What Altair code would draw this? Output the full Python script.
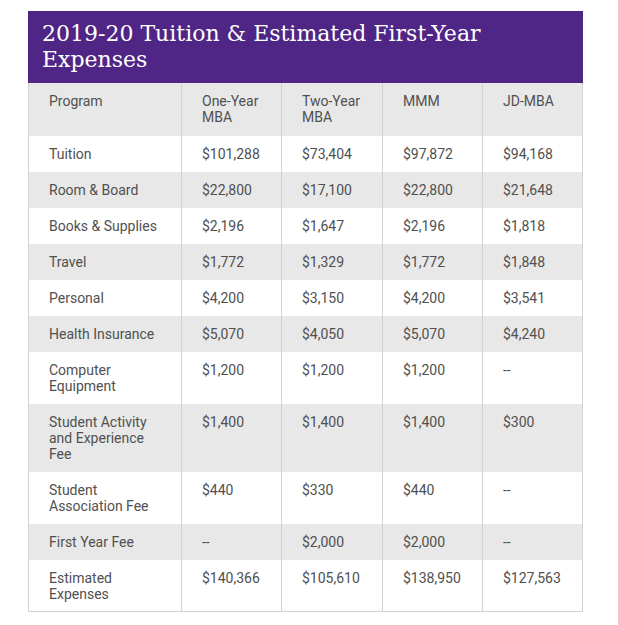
import altair as alt
import pandas as pd

title_lines = ["2019-20 Tuition & Estimated First-Year", "Expenses"]
header = ["Program", "One-Year\nMBA", "Two-Year\nMBA", "MMM", "JD-MBA"]
row_labels = ["Tuition", "Room & Board", "Books & Supplies", "Travel", "Personal",
              "Health Insurance", "Computer\nEquipment",
              "Student Activity\nand Experience\nFee", "Student\nAssociation Fee",
              "First Year Fee", "Estimated\nExpenses"]
one_year = ["$101,288", "$22,800", "$2,196", "$1,772", "$4,200", "$5,070", "$1,200",
            "$1,400", "$440", "--", "$140,366"]
two_year = ["$73,404", "$17,100", "$1,647", "$1,329", "$3,150", "$4,050", "$1,200",
            "$1,400", "$330", "$2,000", "$105,610"]
mmm = ["$97,872", "$22,800", "$2,196", "$1,772", "$4,200", "$5,070", "$1,200",
       "$1,400", "$440", "$2,000", "$138,950"]
jd_mba = ["$94,168", "$21,648", "$1,818", "$1,848", "$3,541", "$4,240", "--",
          "$300", "--", "--", "$127,563"]

# layout (page pixels)
col_widths = [153, 100, 101, 100, 101]
LEFT = 28
TITLE_TOP, TITLE_BOTTOM = 11, 83
LINE_H = 16
PAD_V = 20
PURPLE = "#4f2585"
GRAY = "#e8e8e8"
TEXT = "#505050"
LINE = "#d2d2d2"

col_x = [LEFT]
for w in col_widths:
    col_x.append(col_x[-1] + w)
RIGHT = col_x[-1]

table_rows = [header] + [
    [row_labels[i], one_year[i], two_year[i], mmm[i], jd_mba[i]]
    for i in range(len(row_labels))
]

bg, txt = [], []
y = TITLE_BOTTOM
for r, row in enumerate(table_rows):
    n = max(len(c.split("\n")) for c in row)
    h = PAD_V + LINE_H * n + (1 if r == 0 else 0)
    fill = GRAY if (r == 0 or r % 2 == 0) else "#ffffff"
    bg.append(dict(x=LEFT, x2=RIGHT, y=y, y2=y + h, fill=fill))
    for c, cell in enumerate(row):
        for k, line in enumerate(cell.split("\n")):
            txt.append(dict(x=col_x[c] + 21, y=y + 19 + LINE_H * k, t=line))
    y += h
BOTTOM = y

bg.insert(0, dict(x=LEFT, x2=RIGHT, y=TITLE_TOP, y2=TITLE_BOTTOM, fill=PURPLE))
bg_df = pd.DataFrame(bg)
txt_df = pd.DataFrame(txt)
title_df = pd.DataFrame([dict(x=LEFT + 14, y=TITLE_TOP + 23 + 26 * i, t=t)
                         for i, t in enumerate(title_lines)])
vlines = pd.DataFrame([dict(x=cx + 0.5 if i < len(col_x) - 1 else cx - 0.5,
                            y=TITLE_BOTTOM, y2=BOTTOM) for i, cx in enumerate(col_x)])
hlines = pd.DataFrame([dict(x=LEFT, x2=RIGHT, y=BOTTOM - 0.5)])

xs = alt.Scale(domain=[8, 610], nice=False, zero=False)
ys = alt.Scale(domain=[8, 617], nice=False, zero=False, reverse=True)

rects = alt.Chart(bg_df).mark_rect().encode(
    x=alt.X("x:Q", scale=xs, axis=None), x2="x2",
    y=alt.Y("y:Q", scale=ys, axis=None), y2="y2",
    color=alt.Color("fill:N", scale=None))

vrules = alt.Chart(vlines).mark_rule(color=LINE, strokeWidth=1).encode(
    x=alt.X("x:Q", scale=xs, axis=None),
    y=alt.Y("y:Q", scale=ys, axis=None), y2="y2")

hrules = alt.Chart(hlines).mark_rule(color=LINE, strokeWidth=1).encode(
    x=alt.X("x:Q", scale=xs, axis=None), x2="x2",
    y=alt.Y("y:Q", scale=ys, axis=None))

cells = alt.Chart(txt_df).mark_text(
    align="left", baseline="middle", font="Roboto", fontSize=14, color=TEXT
).encode(x=alt.X("x:Q", scale=xs, axis=None),
         y=alt.Y("y:Q", scale=ys, axis=None), text="t:N")

title = alt.Chart(title_df).mark_text(
    align="left", baseline="middle", font="DejaVu Serif", fontSize=22, color="white"
).encode(x=alt.X("x:Q", scale=xs, axis=None),
         y=alt.Y("y:Q", scale=ys, axis=None), text="t:N")

chart = alt.layer(rects, vrules, hrules, cells, title).properties(
    width=602, height=609, padding=0, autosize=alt.AutoSizeParams(type="none")
).configure_view(stroke=None)

chart.save("out.html", embed_options={"renderer": "svg", "actions": False})
